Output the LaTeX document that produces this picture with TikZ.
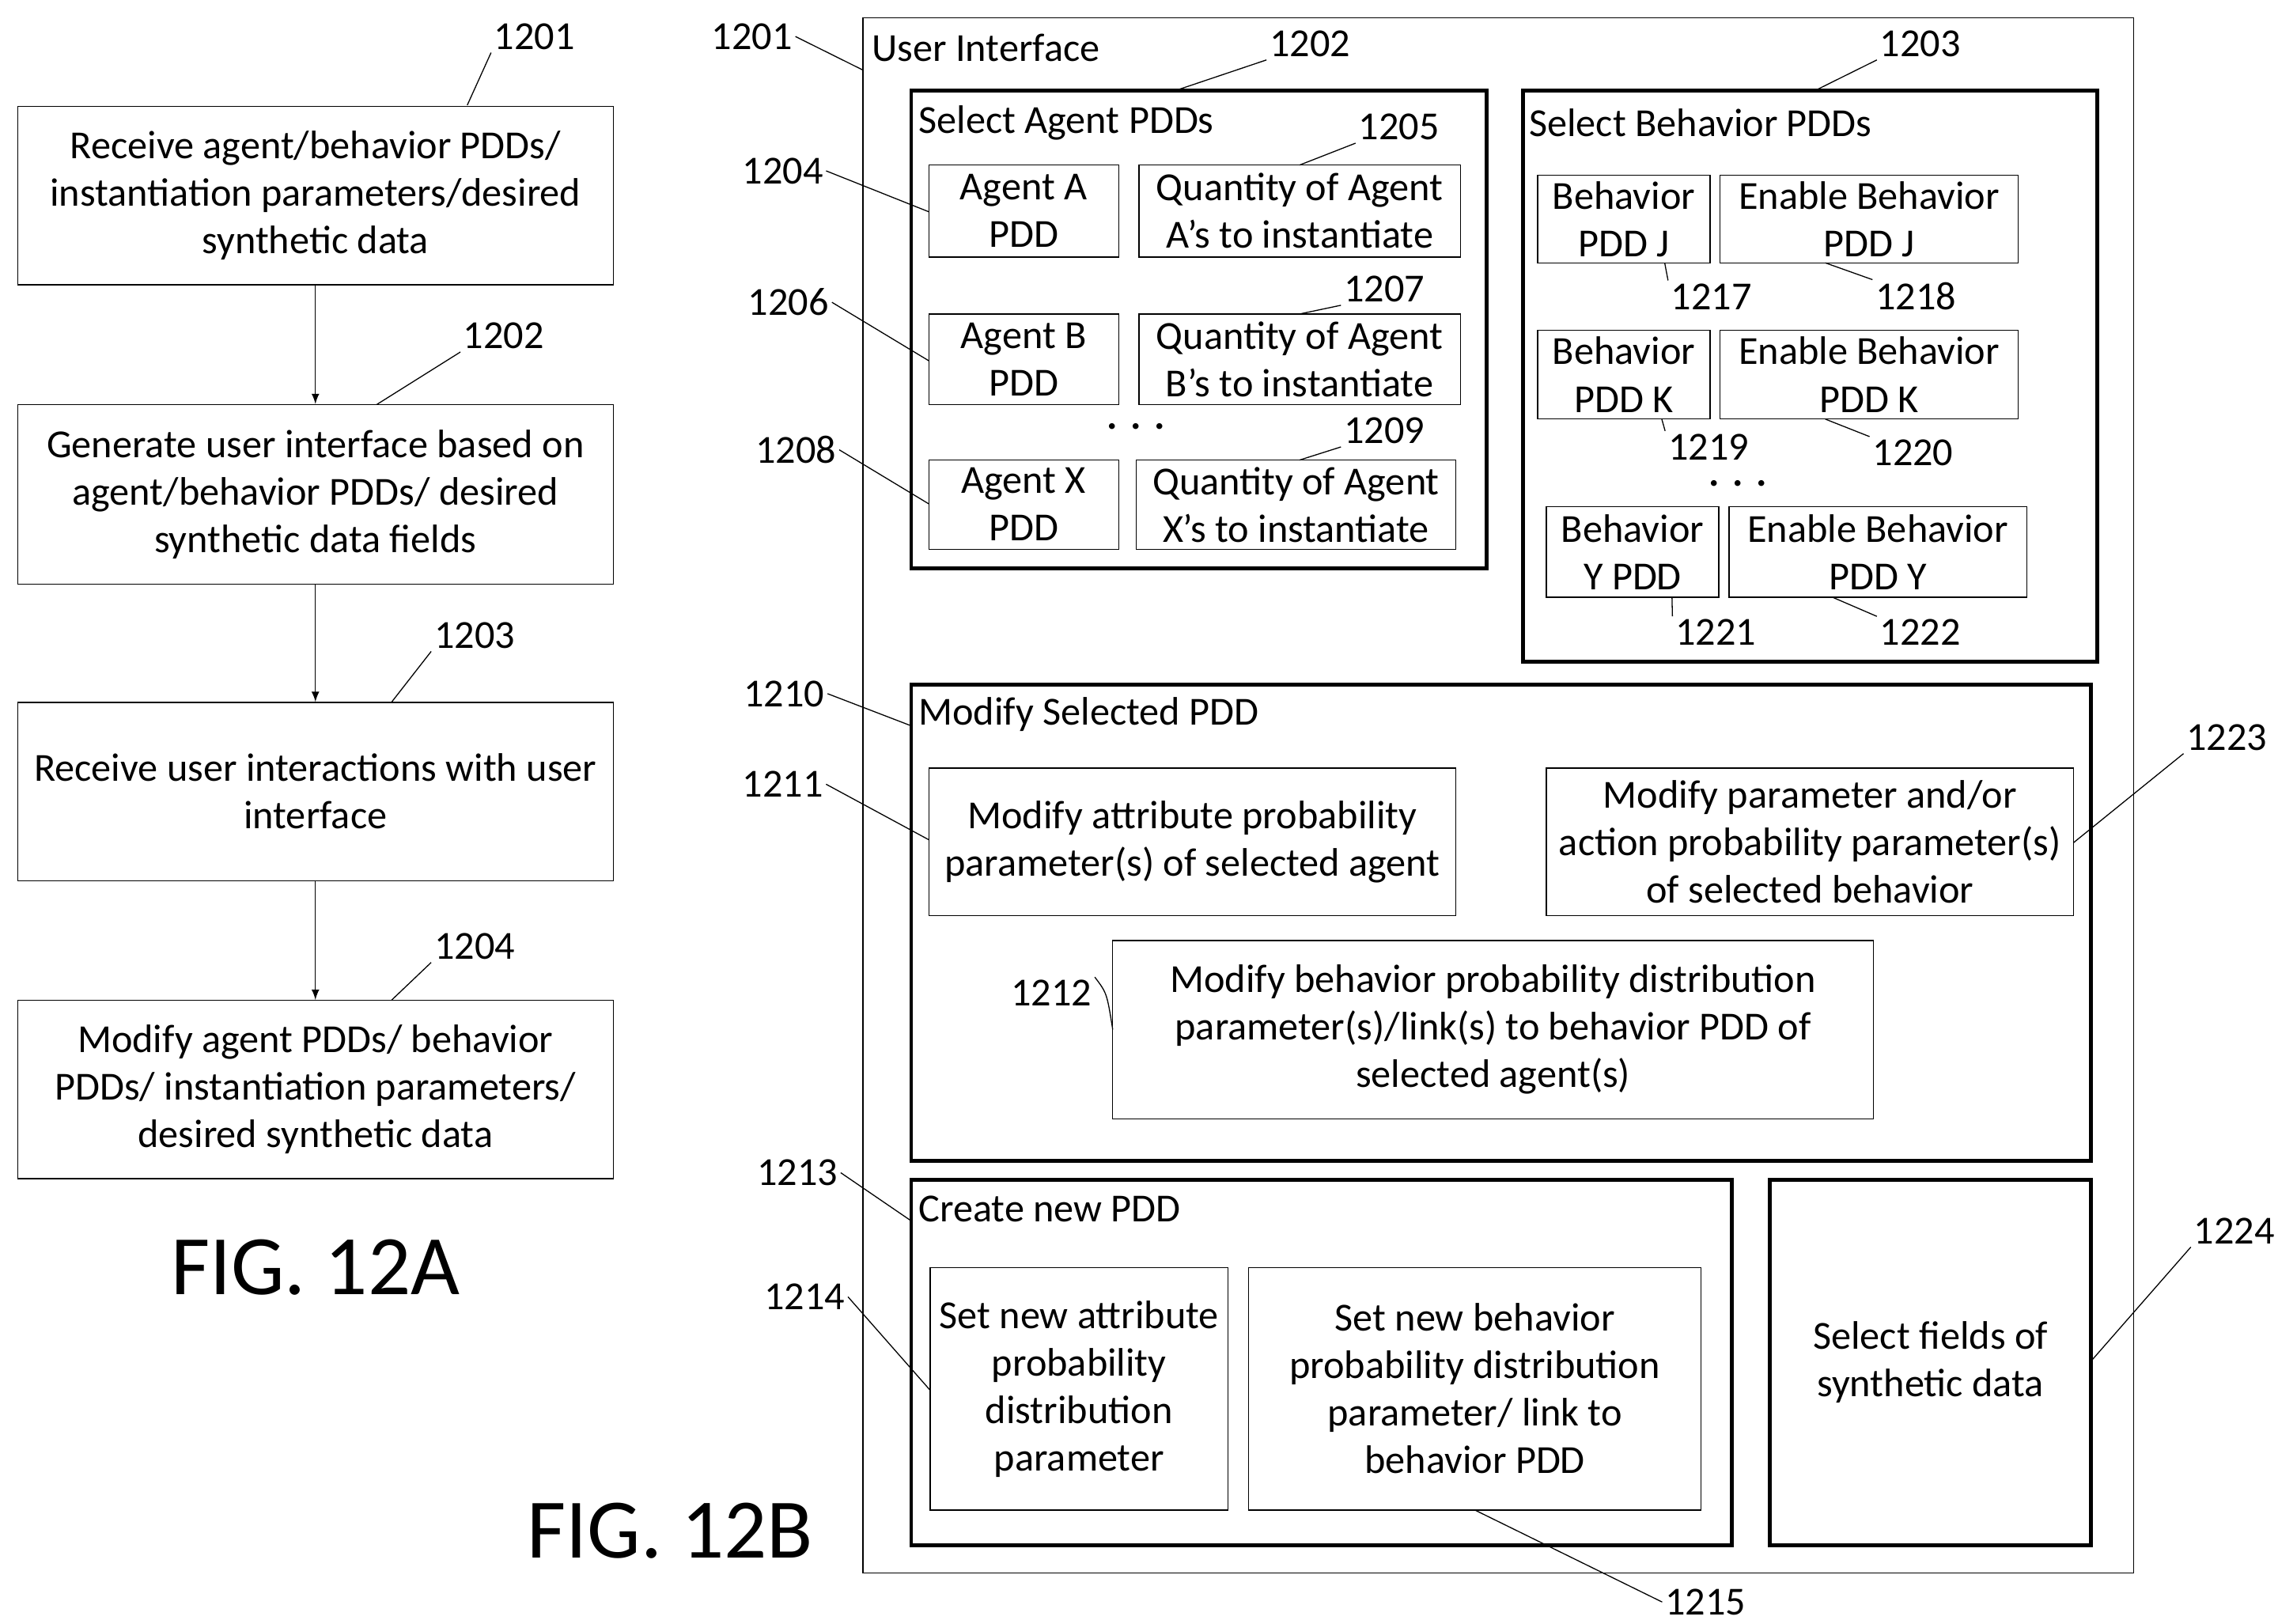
\documentclass[tikz,border=0pt]{standalone}
\usepackage{fontspec}
\setmainfont{Carlito}
\usetikzlibrary{fit}

\tikzset{
  box/.style={draw, inner sep=0pt},
  group/.style={draw, line width=1.5pt, inner sep=0pt},
  txt/.style={align=center, inner sep=0pt, font=\fontsize{15.5}{18.5}\selectfont},
  ref/.style={font=\fontsize{15.5}{18.5}\selectfont, inner sep=1pt},
  title/.style={font=\fontsize{15.5}{18.5}\selectfont, anchor=west, inner sep=1pt},
  lead/.style={thin},
  flow/.style={-latex, thin},
  fig/.style={font=\fontsize{33}{40}\selectfont}
}
% box from two corners, with centred text
\newcommand{\tbox}[4][box]{%
  \node[#1, fit={#3}] (#2) {};
  \node[txt] at (#2.center) {#4};}

\begin{document}
\begin{tikzpicture}[x=0.02cm, y=-0.02cm]
    \useasboundingbox (0,0) rectangle (1560,1112);

    %% FIG. 12A flowchart
    \tbox{s1}{(12,73) (420,195)}{Receive agent/behavior PDDs/\\instantiation parameters/desired\\synthetic data}
    \tbox{s2}{(12,277) (420,400)}{Generate user interface based on\\agent/behavior PDDs/ desired\\synthetic data fields}
    \tbox{s3}{(12,481) (420,603)}{Receive user interactions with user\\interface}
    \tbox{s4}{(12,685) (420,807)}{Modify agent PDDs/ behavior\\PDDs/ instantiation parameters/\\desired synthetic data}
    \draw[flow] (s1) -- (s2);
    \draw[flow] (s2) -- (s3);
    \draw[flow] (s3) -- (s4);

    \node[ref] (r1) at (366,25) {1201};  \draw[lead] (r1.south west) -- (320,72);
    \node[ref] (r2) at (345,230) {1202}; \draw[lead] (r2.south west) -- (258,277);
    \node[ref] (r3) at (325,435) {1203}; \draw[lead] (r3.south west) -- (268,481);
    \node[ref] (r4) at (325,648) {1204}; \draw[lead] (r4.south west) -- (268,685);
    \node[fig] (figa) at (216,868) {FIG. 12A};

    %% FIG. 12B user interface
    \node[draw, thin, fit={(591,12) (1461,1077)}, inner sep=0pt] (ui) {};
    \node[title] (uit) at (595,33) {User Interface};
    \node[ref] (u1) at (515,25) {1201}; \draw[lead] (u1.east) -- (591,48);

    % select agent PDDs
    \node[group, fit={(624,62) (1018,389)}] (agents) {};
    \node[title] at (627,84) {Select Agent PDDs};
    \node[ref] (u2) at (897,30) {1202}; \draw[lead] (u2.south west) -- (805,62);
    \tbox{agA}{(636,113) (766,176)}{Agent A\\PDD}
    \tbox{qA}{(780,113) (1000,176)}{Quantity of Agent\\A's to instantiate}
    \tbox{agB}{(636,215) (766,277)}{Agent B\\PDD}
    \tbox{qB}{(780,215) (1000,277)}{Quantity of Agent\\B's to instantiate}
    \tbox{agX}{(636,315) (766,376)}{Agent X\\PDD}
    \tbox{qX}{(778,315) (997,376)}{Quantity of Agent\\X's to instantiate}
    \node[ref] (dotsA) at (778,292) {\textbf{.\,\,.\,\,.}};
    \node[ref] (u5) at (958,87) {1205};  \draw[lead] (u5.south west) -- (890,113);
    \node[ref] (u7) at (948,198) {1207}; \draw[lead] (u7.south west) -- (890,215);
    \node[ref] (u9) at (948,295) {1209}; \draw[lead] (u9.south west) -- (890,315);
    \node[ref] (u4) at (536,117) {1204}; \draw[lead] (u4.east) -- (636,145);
    \node[ref] (u6) at (540,207) {1206}; \draw[lead] (u6.east) -- (636,247);
    \node[ref] (u8) at (545,308) {1208}; \draw[lead] (u8.east) -- (636,345);

    % select behavior PDDs
    \node[group, fit={(1043,62) (1436,453)}] (behaviors) {};
    \node[title] at (1045,84) {Select Behavior PDDs};
    \node[ref] (u3) at (1315,30) {1203}; \draw[lead] (u3.south west) -- (1243,62);
    \tbox{bJ}{(1053,120) (1171,180)}{Behavior\\PDD J}
    \tbox{eJ}{(1178,120) (1382,180)}{Enable Behavior\\PDD J}
    \tbox{bK}{(1053,226) (1171,287)}{Behavior\\PDD K}
    \tbox{eK}{(1178,226) (1382,287)}{Enable Behavior\\PDD K}
    \tbox{bY}{(1059,347) (1177,409)}{Behavior\\Y PDD}
    \tbox{eY}{(1184,347) (1388,409)}{Enable Behavior\\PDD Y}
    \node[ref] (dotsB) at (1190,331) {\textbf{.\,\,.\,\,.}};
    \node[ref] (u17) at (1172,203) {1217}; \draw[lead] (u17.north west) -- (1140,180);
    \node[ref] (u18) at (1312,203) {1218}; \draw[lead] (u18.north west) -- (1250,180);
    \node[ref] (u19) at (1170,306) {1219}; \draw[lead] (u19.north west) -- (1138,287);
    \node[ref] (u20) at (1310,310) {1220}; \draw[lead] (u20.north west) -- (1250,287);
    \node[ref] (u21) at (1175,433) {1221}; \draw[lead] (u21.north west) -- (1145,409);
    \node[ref] (u22) at (1315,433) {1222}; \draw[lead] (u22.north west) -- (1255,409);

    % modify selected PDD
    \node[group, fit={(624,469) (1432,795)}] (modify) {};
    \node[title] at (627,489) {Modify Selected PDD};
    \node[ref] (u10) at (537,475) {1210}; \draw[lead] (u10.east) -- (624,497);
    \tbox{mAttr}{(636,526) (997,627)}{Modify attribute probability\\parameter(s) of selected agent}
    \tbox{mParam}{(1059,526) (1420,627)}{Modify parameter and/or\\action probability parameter(s)\\of selected behavior}
    \tbox{mBeh}{(762,644) (1283,766)}{Modify behavior probability distribution\\parameter(s)/link(s) to behavior PDD of\\selected agent(s)}
    \node[ref] (u11) at (536,537) {1211}; \draw[lead] (u11.east) -- (636,575);
    \node[ref] (u23) at (1525,505) {1223}; \draw[lead] (u23.south west) -- (1420,577);
    \node[ref] (u12) at (720,680) {1212}; \draw[lead] (u12.north east) .. controls (758,680) .. (762,705);

    % create new PDD
    \node[group, fit={(624,808) (1186,1058)}] (create) {};
    \node[title] at (627,828) {Create new PDD};
    \node[ref] (u13) at (546,803) {1213}; \draw[lead] (u13.east) -- (624,836);
    \tbox{nAttr}{(637,868) (841,1034)}{Set new attribute\\probability\\distribution\\parameter}
    \tbox{nBeh}{(855,868) (1165,1034)}{Set new behavior\\probability distribution\\parameter/ link to\\behavior PDD}
    \node[ref] (u14) at (551,888) {1214}; \draw[lead] (u14.east) -- (637,952);
    \node[ref] (u15) at (1168,1097) {1215}; \draw[lead] (u15.west) -- (1010,1034);

    % select fields
    \tbox[group]{fields}{(1212,808) (1432,1058)}{Select fields of\\synthetic data}
    \node[ref] (u24) at (1530,843) {1224}; \draw[lead] (u24.south west) -- (1432,932);

    \node[fig] (figb) at (459,1048) {FIG. 12B};
\end{tikzpicture}
\end{document}
